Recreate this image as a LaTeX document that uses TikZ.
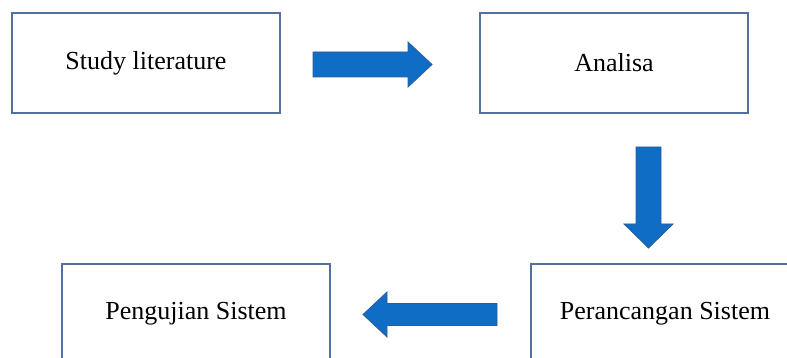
\documentclass[tikz,border=0pt]{standalone}
\usepackage{fontspec}
\setmainfont{Liberation Serif}
\usepackage{xcolor}
\usepackage{tikz}
\usetikzlibrary{
  arrows.meta,
  positioning,
  calc
}
\definecolor{boxline}{HTML}{5470A0}
\definecolor{panahfill}{HTML}{0F6DC5}
\definecolor{panahline}{HTML}{2F5A96}

% block arrow: from #1 to #2, shaft half #3, head half #4, head length #5
\newcommand{\blokpanah}[5]{%
  \coordinate (#1h) at ($(#2)!#5!(#1)$);
  \draw[panah] ($(#1)!#3!90:(#2)$) -- ($(#1h)!#3!90:(#2)$) -- ($(#1h)!#4!90:(#2)$)
    -- (#2) -- ($(#1h)!#4!-90:(#2)$) -- ($(#1h)!#3!-90:(#2)$) -- ($(#1)!#3!-90:(#2)$) -- cycle;
}

\begin{document}
\begin{tikzpicture}[x=1pt, y=-1pt,
  every node/.style={font=\fontsize{26}{30}\selectfont},
  kotak/.style={draw=boxline, line width=1.4pt, minimum width=268pt, minimum height=100pt, inner sep=0pt},
  panah/.style={fill=panahfill, draw=panahline, line width=0.8pt, line join=miter}]
\useasboundingbox (0,0) rectangle (787,358);
\node[kotak] (study) at (146,63) {Study literature};
\node[kotak] (analisa) at (614,63) {Analisa};
\node[kotak] (rancang) at (665,314) {Perancangan Sistem};
\node[kotak] (uji) at (196,314) {Pengujian Sistem};
\coordinate (p1a) at (313,64.5);
\coordinate (p1b) at (432,64.5);
\coordinate (p2a) at (648.5,147);
\coordinate (p2b) at (648.5,248);
\coordinate (p3a) at (497,314.5);
\coordinate (p3b) at (363,314.5);
\blokpanah{p1a}{p1b}{12.5pt}{22.5pt}{24pt}
\blokpanah{p2a}{p2b}{12.5pt}{24.5pt}{24pt}
\blokpanah{p3a}{p3b}{11pt}{22.5pt}{24pt}
\end{tikzpicture}
\end{document}
